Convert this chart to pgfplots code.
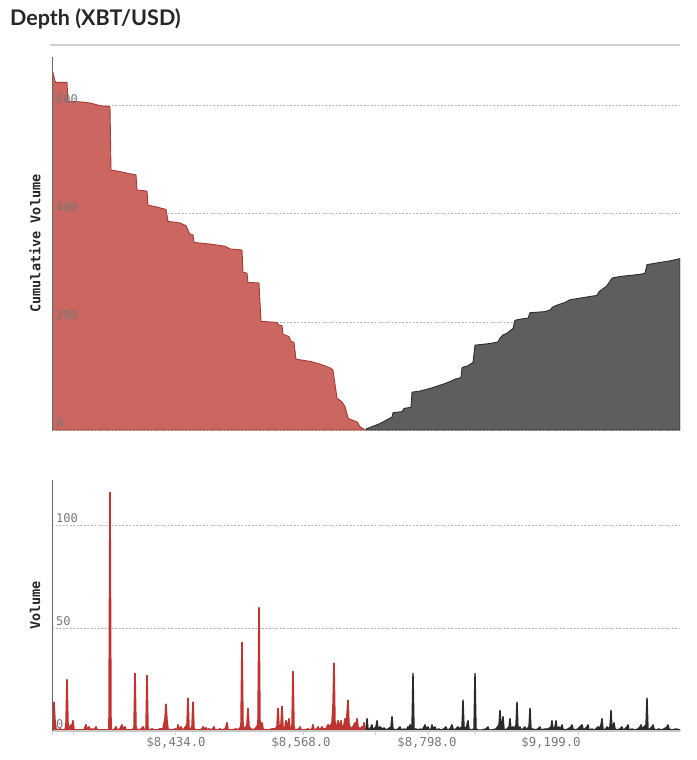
\documentclass[border=0pt]{standalone}
\usepackage{pgfplots}
\pgfplotsset{compat=1.18}
\usepackage{fontspec}
\setmainfont{Liberation Sans}
\setmonofont{DejaVu Sans Mono}
\newfontfamily\titlefont{Lato}
\definecolor{bidfill}{HTML}{CC6660}
\definecolor{bidline}{HTML}{A83A34}
\definecolor{askfill}{HTML}{5E5E5E}
\definecolor{askline}{HTML}{2E2E2E}
\definecolor{volred}{HTML}{C0342F}
\definecolor{volblack}{HTML}{2A2A2A}
\definecolor{axgray}{HTML}{6A6A6A}
\definecolor{ticktext}{HTML}{777777}
\pgfplotsset{
  common/.style={
    scale only axis, width=628pt, xmin=52, xmax=680,
    set layers, axis on top,
    major grid style={dash pattern=on 2pt off 1.5pt, color=black!28, line width=0.6pt, /pgfplots/on layer=axis background},
    ymajorgrids,
    major tick length=0pt,
    tick pos=left,
    /pgf/number format/assume math mode=true,
    yticklabel style={anchor=west, inner sep=0pt, xshift=4pt, yshift=7pt, font=\fontsize{12}{12}\selectfont\ttfamily, text=ticktext},
    ylabel style={font=\fontsize{13.5}{13.5}\selectfont\ttfamily\bfseries, text=black!85, anchor=center},
    axis line style={draw=none},
  }
}
\begin{document}
\begin{tikzpicture}
\path (0pt,0pt) rectangle (696pt,-760pt);
\node[anchor=base west, inner sep=0pt, font=\fontsize{21.5}{21.5}\selectfont\titlefont\bfseries, text=black!85] at (10pt,-26pt) {Depth (XBT/USD)};
\draw[color=black!18, line width=2pt] (50pt,-45pt) -- (680pt,-45pt);

\begin{axis}[common,
  at={(52pt,-430pt)}, anchor=south west, height=373pt,
  ymin=0, ymax=690, ytick={0,200,400,600},
  xtick=\empty,
  ylabel={Cumulative Volume},
  ylabel style={at={(axis description cs:-0.027,0.5)}},
]
\addplot[fill=bidfill, draw=bidline, line width=0.9pt] coordinates {
(52,665) (53,661) (55,645) (56,643) (67,643) (68,608) (80,607) (90,605) (100,600) (110,598)
(111,481) (120,478) (130,474) (136,472) (137,444) (147,442) (148,416) (158,412) (166,408)
(168,386) (180,383) (186,378) (188,370) (190,362) (193,361) (194,347) (210,344) (225,340)
(230,335) (242,333) (243,292) (247,290) (248,273) (259,272) (261,201) (277,199) (279,194)
(282,193) (283,177) (289,173) (291,164) (294,162) (296,131) (310,127) (320,122) (330,115)
(333,111) (337,59) (342,52) (345,43) (346,37) (348,22) (351,19) (357,15) (360,6) (365,0)
} \closedcycle;
\addplot[fill=askfill, draw=askline, line width=0.9pt] coordinates {
(366,2) (380,12) (392,24) (393,32) (402,34) (404,40) (411,42) (412,70) (420,72) (430,77)
(437,81) (445,86) (453,92) (455,94) (461,97) (462,115) (464,117) (467,118) (473,125)
(475,157) (490,160) (498,163) (500,170) (503,176) (507,179) (513,188) (515,203) (520,205)
(528,207) (530,217) (545,219) (550,222) (553,228) (557,231) (565,236) (570,241) (580,244)
(590,247) (597,249) (599,256) (605,264) (607,267) (612,281) (620,284) (630,286) (640,288)
(645,290) (647,306) (660,310) (670,313) (680,317)
} \closedcycle;
\draw[color=axgray, line width=2.2pt] (axis cs:52,0) -- (axis cs:52,690);
\end{axis}

\begin{axis}[common,
  at={(52pt,-731pt)}, anchor=south west, height=251pt,
  ymin=0, ymax=122, ytick={0,50,100},
  xtick={176,301,427,551},
  xticklabels={{\$8,434.0},{\$8,568.0},{\$8,798.0},{\$9,199.0}},
  xticklabel style={font=\fontsize{12.3}{12.3}\selectfont\ttfamily, text=ticktext, yshift=-3pt},
  xtick align=outside,
  extra x ticks={52,73,175,303,375,428,475,578},
  extra x tick labels={},
  extra x tick style={major tick length=4pt, tick align=outside, tick style={color=black!18, line width=0.8pt}},
  ylabel={Volume},
  ylabel style={at={(axis description cs:-0.027,0.5)}},
]
\addplot[fill=volred, draw=volred, line width=1.6pt, line join=round] coordinates {
(52,0.5) (53,3) (54,14) (55,5) (56,1) (58,0.5) (60,1) (62,0.5) (65,0.5) (66,3) (67,25) (68,3)
(69,2) (70,0.5) (71,3) (72,1) (73,5) (74,0.5) (76,0.5) (80,0.5) (84,0.5) (86,3) (87,0.5)
(89,2) (90,0.5) (92,1) (94,0.5) (96,2) (97,0.5) (100,0.5) (105,0.5) (109,0.5) (110,116)
(111,0.5) (114,0.5) (116,2) (117,0.5) (120,1) (122,3) (123,1) (125,2) (126,0.5) (130,0.5)
(134,1) (135,28) (136,1) (140,0.5) (143,2) (144,0.5) (146,1) (147,27) (148,0.5) (150,0.5)
(152,1) (154,0.5) (157,0.5) (160,1) (163,1) (165,6) (166,13) (167,5) (168,1) (170,0.5)
(173,0.5) (175,1) (177,0.5) (178,3) (179,0.5) (181,2) (182,0.5) (184,1) (187,3) (188,16)
(189,1) (190,0.5) (192,2) (193,14) (194,1) (196,0.5) (200,0.5) (202,1) (203,2) (204,1)
(206,1.5) (207,0.5) (209,1) (212,0.5) (214,2) (215,0.5) (218,0.5) (220,1) (222,0.5) (225,1)
(226,2) (227,4) (228,0.5) (232,0.5) (236,1) (238,0.5) (241,2) (242,43) (243,2) (245,1)
(247,3) (248,11) (249,2) (251,1) (252,0.5) (255,1) (258,3) (259,60) (260,2) (261,1) (262,4)
(263,1) (265,0.5) (268,0.5) (272,1) (275,1) (277,2) (278,11) (279,2) (281,3) (282,12)
(283,1) (285,2) (286,5) (287,1) (288,3) (289,6) (290,1) (292,2) (293,29) (294,1) (296,0.5)
(299,1) (300,2) (301,0.5) (305,0.5) (308,1) (310,0.5) (312,1) (313,3) (314,0.5) (317,1)
(318,2) (319,1) (320,0.5) (322,2) (323,1) (326,1) (328,3) (330,2) (332,4) (333,12) (334,33)
(335,3) (336,1) (338,5) (339,1) (341,5) (342,1) (344,3) (345,6) (346,1) (347,8) (348,15)
(349,3) (351,1) (353,2) (355,4) (356,1) (357,6) (358,2) (360,1) (362,2) (363,0.5) (364,4)
(365,0.5)
} \closedcycle;
\addplot[fill=volblack, draw=volblack, line width=1.4pt, line join=round] coordinates {
(366,0.5) (367,6) (368,1) (370,1) (372,3) (373,0.5) (376,2) (377,5) (378,1) (380,2) (382,1)
(384,1.5) (386,0.5) (388,1) (391,2) (392,7) (393,1) (396,0.5) (398,1) (400,2) (401,0.5)
(404,1) (406,0.5) (408,2) (409,1) (410,3) (412,2) (413,28) (414,1) (416,1) (418,0.5) (420,1)
(422,0.5) (424,2) (425,3) (426,1) (428,2) (429,0.5) (431,1) (432,3) (433,1) (435,2) (436,0.5)
(439,1) (441,0.5) (444,1) (446,2) (447,0.5) (450,1) (452,3) (453,1) (455,0.5) (458,2)
(459,1) (462,2) (463,15) (464,2) (466,1) (468,5) (469,1) (471,0.5) (474,1) (475,28) (476,1)
(478,0.5) (482,0.5) (486,1) (488,2) (489,0.5) (492,0.5) (496,1) (499,3) (500,10) (501,2)
(502,3) (503,7) (504,1) (506,0.5) (509,2) (510,6) (511,1) (513,2) (514,1) (516,3) (517,14)
(518,1) (520,2) (521,0.5) (523,1) (525,2) (526,0.5) (529,2) (530,11) (531,1) (533,1)
(535,0.5) (538,1) (540,2) (541,0.5) (545,1) (548,1) (551,2) (552,5) (553,1) (555,2) (556,5)
(557,1) (559,2) (560,0.5) (562,3) (563,1) (565,0.5) (568,1) (571,2) (572,3) (573,1)
(575,0.5) (578,1) (580,2) (582,3) (583,1) (585,1) (587,2) (588,3) (589,0.5) (592,1)
(594,0.5) (596,1) (598,2) (599,1) (601,3) (602,6) (603,1) (605,0.5) (607,2) (608,1) (610,2)
(611,10) (612,1) (614,4) (615,1) (617,0.5) (620,1) (622,2) (623,0.5) (625,1) (627,2) (628,3)
(629,0.5) (632,1) (635,0.5) (638,1) (640,2) (641,3) (642,1) (644,2) (646,3) (647,16) (648,1)
(650,1) (652,2) (653,3) (654,1) (656,0.5) (659,1) (661,0.5) (664,1) (667,2) (668,3) (669,1)
(672,0.5) (676,1) (680,0.5)
} \closedcycle;
\draw[color=black!22, line width=1.5pt] (axis cs:52,0) -- (axis cs:680,0);
\draw[color=axgray, line width=2.2pt] (axis cs:52,0) -- (axis cs:52,122);
\end{axis}
\end{tikzpicture}
\end{document}
